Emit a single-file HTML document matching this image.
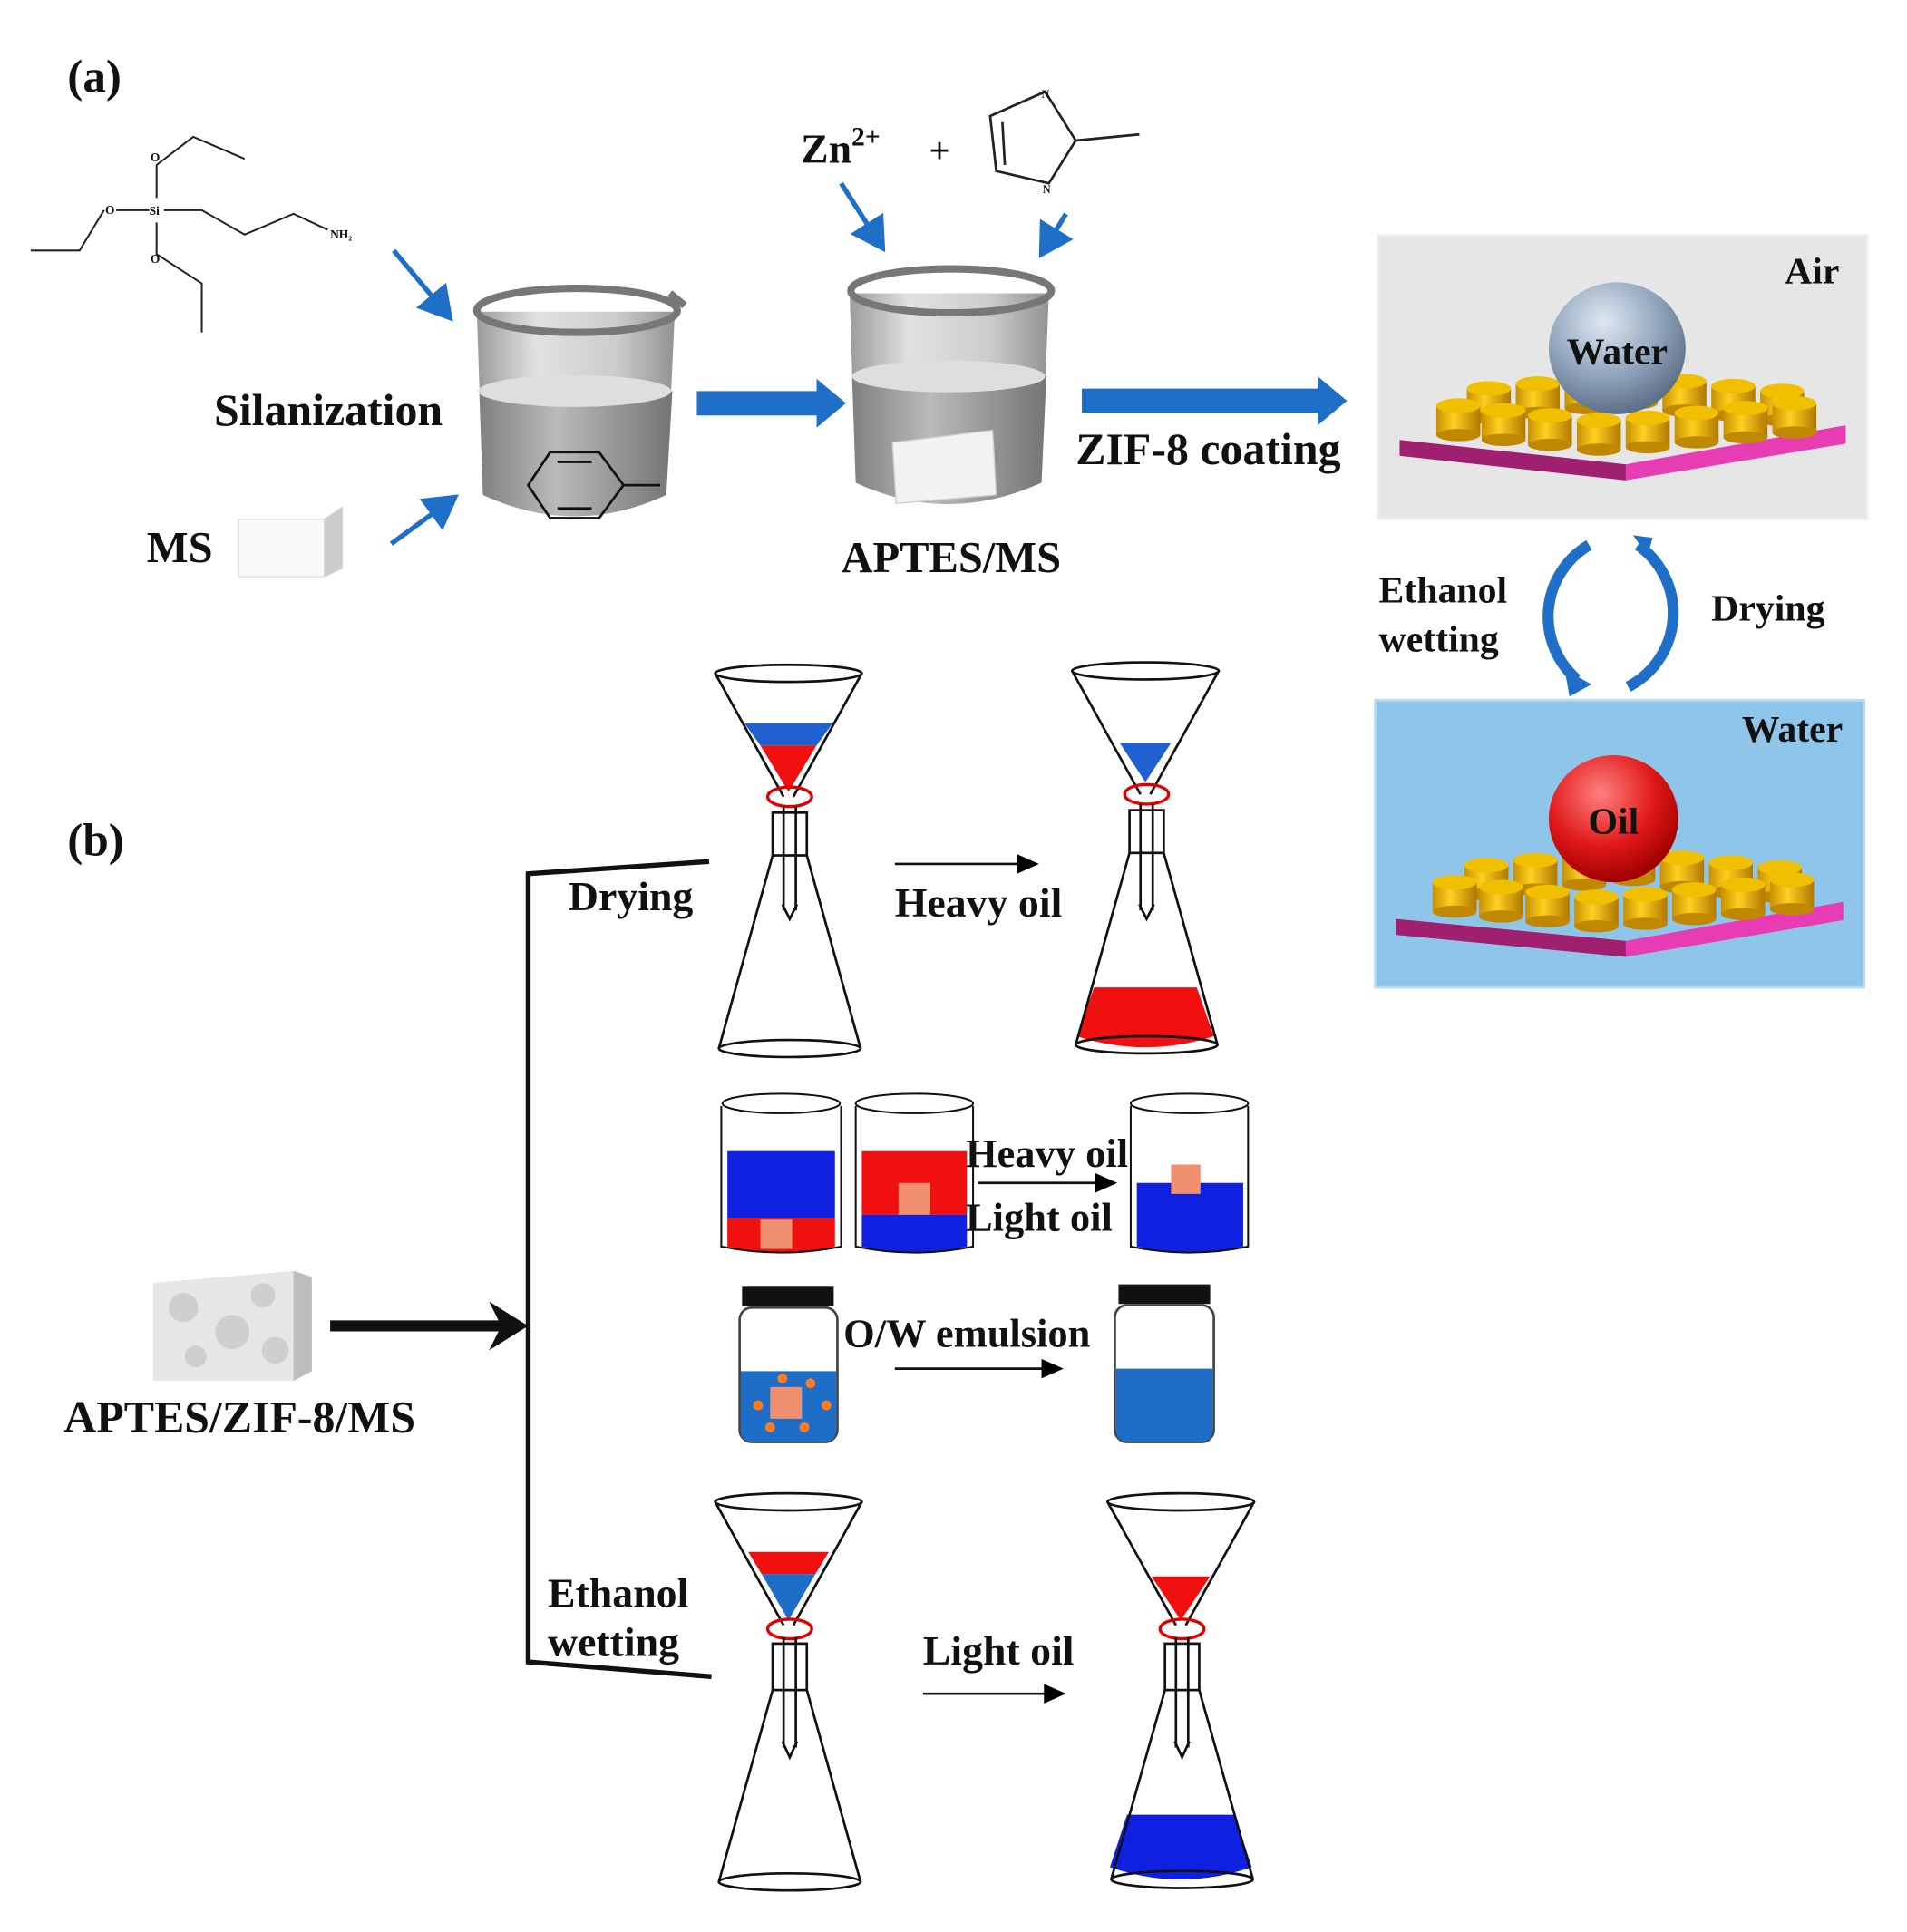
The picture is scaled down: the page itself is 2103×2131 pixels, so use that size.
<!DOCTYPE html>
<html><head><meta charset="utf-8"><style>
html,body{margin:0;padding:0;background:#fff;}
svg{display:block;}
text{font-family:"Liberation Serif",serif;font-weight:bold;fill:#111;}
</style></head><body>
<svg width="2103" height="2131" viewBox="0 0 1560 1581" xmlns="http://www.w3.org/2000/svg">
<defs>
<linearGradient id="bk" x1="0" x2="1"><stop offset="0" stop-color="#8a8a8a"/><stop offset="0.3" stop-color="#dcdcdc"/><stop offset="0.7" stop-color="#c4c4c4"/><stop offset="1" stop-color="#808080"/></linearGradient>
<linearGradient id="liq" x1="0" x2="1"><stop offset="0" stop-color="#808080"/><stop offset="0.4" stop-color="#bababa"/><stop offset="1" stop-color="#757575"/></linearGradient>
<radialGradient id="ws" cx="0.4" cy="0.3" r="0.7"><stop offset="0" stop-color="#dfe8f2"/><stop offset="0.6" stop-color="#8fa3bb"/><stop offset="1" stop-color="#5e7088"/></radialGradient>
<radialGradient id="os" cx="0.4" cy="0.3" r="0.7"><stop offset="0" stop-color="#ff8080"/><stop offset="0.6" stop-color="#e01818"/><stop offset="1" stop-color="#a00000"/></radialGradient>
<linearGradient id="py" x1="0" x2="1"><stop offset="0" stop-color="#c89000"/><stop offset="0.4" stop-color="#ffd020"/><stop offset="1" stop-color="#b07800"/></linearGradient>
<g id="pil"><rect x="0" y="0" width="36" height="24" fill="url(#py)"/><ellipse cx="18" cy="24" rx="18" ry="5" fill="#c08800"/><ellipse cx="18" cy="0" rx="18" ry="6" fill="#f0c000"/></g>
<marker id="ah" markerWidth="10" markerHeight="10" refX="8" refY="5" orient="auto"><path d="M0,1 L9,5 L0,9 Z" fill="#000"/></marker>
<marker id="bh" markerWidth="8" markerHeight="8" refX="6" refY="4" orient="auto"><path d="M0,0 L7,4 L0,8 Z" fill="#1f6fc8"/></marker>
</defs>

<text x="55" y="75" font-size="38">(a)</text>
<text x="55" y="700" font-size="38">(b)</text>

<!-- APTES molecule -->
<g stroke="#222" stroke-width="1.5" fill="none">
<path d="M25,205 L65,205 L85,172 M95,172 L122,172 M128,162 L128,135 L158,112 L200,130 M128,182 L128,208 L165,232 L165,272 M134,172 L165,172 L200,192 L240,175 L268,188"/>
</g>
<g font-family="Liberation Sans"><text x="86" y="175" font-size="10">O</text><text x="123" y="132" font-size="10">O</text><text x="123" y="215" font-size="10">O</text><text x="122" y="176" font-size="10">Si</text><text x="270" y="195" font-size="10">NH₂</text></g>

<g stroke="#1f6fc8" stroke-width="4" marker-end="url(#bh)">
<line x1="322" y1="205" x2="368" y2="260"/>
<line x1="320" y1="445" x2="372" y2="407"/>
<line x1="688" y1="150" x2="722" y2="203"/>
<line x1="872" y1="175" x2="852" y2="208"/>
</g>

<!-- beaker 1 -->
<path d="M390,255 L395,405 Q470,440 545,405 L552,255 Z" fill="url(#bk)" opacity="0.85"/>
<path d="M392,320 L395,405 Q470,440 545,405 L550,320 Q470,335 392,320Z" fill="url(#liq)"/>
<ellipse cx="470" cy="320" rx="79" ry="13" fill="#dedede"/>
<ellipse cx="472" cy="254" rx="82" ry="18" fill="none" stroke="#777" stroke-width="6"/>
<path d="M548,240 L560,250" stroke="#777" stroke-width="6"/>
<g stroke="#111" stroke-width="2" fill="none"><path d="M450,370 L490,370 L510,397 L490,424 L450,424 L432,397 Z M510,397 L540,397 M456,378 L484,378 M456,416 L484,416"/></g>
<text x="175" y="348" font-size="37">Silanization</text>
<text x="120" y="460" font-size="36">MS</text>
<path d="M195,425 L265,425 L280,415 L280,465 L265,472 L195,472 Z" fill="#fafafa" stroke="#ddd"/>
<path d="M265,425 L280,415 L280,465 L265,472Z" fill="#ccc"/>

<path d="M570,320 L668,320 L668,310 L692,330 L668,350 L668,340 L570,340 Z" fill="#1f6fc8"/>

<!-- beaker 2 -->
<path d="M695,240 L700,395 Q775,430 852,395 L858,240 Z" fill="url(#bk)" opacity="0.85"/>
<path d="M697,308 L700,395 Q775,430 852,395 L856,308 Q775,322 697,308Z" fill="url(#liq)"/>
<ellipse cx="776" cy="308" rx="79" ry="13" fill="#dedede"/>
<ellipse cx="778" cy="238" rx="82" ry="18" fill="none" stroke="#777" stroke-width="6"/>
<path d="M730,362 L812,352 L815,405 L733,412 Z" fill="#f2f2f2" stroke="#ccc"/>
<text x="688" y="468" font-size="36">APTES/MS</text>
<text x="655" y="133" font-size="34">Zn<tspan font-size="22" dy="-14">2+</tspan></text>
<text x="760" y="133" font-size="30">+</text>
<g stroke="#222" stroke-width="2" fill="none"><path d="M855,75 L880,115 L858,150 L815,140 L810,95 Z M820,100 L822,135 M880,115 L932,110"/></g>
<text x="852" y="80" font-size="9" font-family="Liberation Sans">N</text><text x="853" y="158" font-size="9" font-family="Liberation Sans">N</text>

<path d="M885,318 L1078,318 L1078,308 L1102,328 L1078,348 L1078,338 L885,338 Z" fill="#1f6fc8"/>
<text x="880" y="380" font-size="37">ZIF-8 coating</text>

<!-- top panel -->
<rect x="1127" y="192" width="401" height="233" fill="#e6e6e6" stroke="#f2f2f2" stroke-width="2"/>
<text x="1460" y="232" font-size="31">Air</text>
<polygon points="1145,360 1330,380 1510,348 1510,363 1330,393 1145,373" fill="#e83cb4"/>
<polygon points="1145,360 1330,380 1330,393 1145,373" fill="#a02070"/>
<g><use href="#pil" x="1200" y="318"/><use href="#pil" x="1240" y="314"/><use href="#pil" x="1280" y="310"/><use href="#pil" x="1320" y="306"/><use href="#pil" x="1360" y="312"/><use href="#pil" x="1400" y="316"/><use href="#pil" x="1440" y="320"/>
<use href="#pil" x="1175" y="332"/><use href="#pil" x="1212" y="336"/><use href="#pil" x="1250" y="340"/><use href="#pil" x="1290" y="344"/><use href="#pil" x="1330" y="342"/><use href="#pil" x="1370" y="338"/><use href="#pil" x="1410" y="334"/><use href="#pil" x="1450" y="330"/></g>
<ellipse cx="1323" cy="285" rx="56" ry="54" fill="url(#ws)"/>
<text x="1323" y="298" font-size="31" text-anchor="middle">Water</text>

<g fill="none" stroke="#1f6fc8" stroke-width="9">
<path d="M1300,446 A68,68 0 0 0 1290,556"/>
<path d="M1340,446 A68,68 0 0 1 1332,562"/>
</g>
<path d="M1280,548 L1302,560 L1284,570 Z" fill="#1f6fc8"/>
<path d="M1352,440 L1336,438 L1348,455 Z" fill="#1f6fc8"/>
<text x="1128" y="493" font-size="31">Ethanol</text>
<text x="1128" y="533" font-size="31">wetting</text>
<text x="1400" y="508" font-size="31">Drying</text>

<!-- bottom panel -->
<rect x="1125" y="573" width="400" height="235" fill="#8fc5e8" stroke="#b8dcf0" stroke-width="2"/>
<text x="1425" y="607" font-size="31">Water</text>
<polygon points="1142,752 1330,770 1508,738 1508,753 1330,783 1142,765" fill="#e83cb4"/>
<polygon points="1142,752 1330,770 1330,783 1142,765" fill="#a02070"/>
<g><use href="#pil" x="1198" y="708"/><use href="#pil" x="1238" y="704"/><use href="#pil" x="1278" y="700"/><use href="#pil" x="1318" y="696"/><use href="#pil" x="1358" y="702"/><use href="#pil" x="1398" y="706"/><use href="#pil" x="1438" y="710"/>
<use href="#pil" x="1172" y="722"/><use href="#pil" x="1210" y="726"/><use href="#pil" x="1248" y="730"/><use href="#pil" x="1288" y="734"/><use href="#pil" x="1328" y="732"/><use href="#pil" x="1368" y="728"/><use href="#pil" x="1408" y="724"/><use href="#pil" x="1448" y="720"/></g>
<ellipse cx="1320" cy="670" rx="53" ry="52" fill="url(#os)"/>
<text x="1320" y="682" font-size="31" text-anchor="middle">Oil</text>

<!-- (b) -->
<path d="M580,705 L432,715 L432,1360 L582,1372" fill="none" stroke="#111" stroke-width="4"/>
<line x1="270" y1="1085" x2="422" y2="1085" stroke="#111" stroke-width="9"/>
<path d="M400,1065 L432,1085 L400,1105 L410,1085 Z" fill="#111"/>
<path d="M125,1050 L240,1040 L255,1045 L255,1122 L240,1130 L125,1130 Z" fill="#e6e6e6"/>
<path d="M240,1040 L255,1045 L255,1122 L240,1130 Z" fill="#bdbdbd"/>
<g fill="#cfcfcf"><circle cx="150" cy="1070" r="12"/><circle cx="190" cy="1090" r="14"/><circle cx="215" cy="1060" r="10"/><circle cx="160" cy="1110" r="9"/><circle cx="225" cy="1105" r="11"/></g>
<text x="52" y="1172" font-size="37">APTES/ZIF-8/MS</text>

<g stroke="#111" stroke-width="2" fill="none">
<polygon points="609,592 681,592 668,610 622,610" fill="#2060d0" stroke="none"/>
<polygon points="622,610 668,610 645,648" fill="#f01010" stroke="none"/>
<ellipse cx="645" cy="551" rx="60" ry="7"/>
<line x1="585" y1="551" x2="641" y2="652"/><line x1="705" y1="551" x2="649" y2="652"/>
<ellipse cx="646" cy="652" rx="18" ry="8" stroke="#e00000" stroke-width="2.5"/>
<rect x="632" y="665" width="28" height="35"/><line x1="641" y1="660" x2="641" y2="745"/><line x1="651" y1="660" x2="651" y2="745"/>
<path d="M640,740 L646,752 L652,740"/>
<line x1="632" y1="700" x2="588" y2="858"/><line x1="660" y1="700" x2="704" y2="858"/>
<ellipse cx="646" cy="858" rx="58" ry="7"/>
</g>
<text x="465" y="745" font-size="34">Drying</text>
<text x="732" y="750" font-size="34">Heavy oil</text>
<line x1="732" y1="707" x2="848" y2="707" stroke="#111" stroke-width="2" marker-end="url(#ah)"/>

<g stroke="#111" stroke-width="2" fill="none">
<polygon points="916,608 958,608 937,640" fill="#2060d0" stroke="none"/>
<path d="M895,808 L979,808 L993,848 Q937,866 881,848 Z" fill="#f01010" stroke="none"/>
<ellipse cx="937" cy="549" rx="60" ry="7"/>
<line x1="877" y1="549" x2="933" y2="650"/><line x1="997" y1="549" x2="941" y2="650"/>
<ellipse cx="938" cy="650" rx="18" ry="8" stroke="#e00000" stroke-width="2.5"/>
<rect x="924" y="663" width="28" height="35"/><line x1="933" y1="658" x2="933" y2="745"/><line x1="943" y1="658" x2="943" y2="745"/>
<path d="M932,740 L938,752 L944,740"/>
<line x1="924" y1="698" x2="880" y2="855"/><line x1="952" y1="698" x2="996" y2="855"/>
<ellipse cx="938" cy="855" rx="58" ry="7"/>
</g>

<g stroke="#111" stroke-width="1.5">
<rect x="595" y="942" width="88" height="55" fill="#1020e0" stroke="none"/><path d="M595,997 L683,997 L683,1020 Q639,1030 595,1020Z" fill="#f01010" stroke="none"/>
<rect x="622" y="998" width="26" height="24" fill="#f09070" stroke="none"/>
<path d="M590,905 L590,1020 Q639,1030 688,1020 L688,905" fill="none"/><ellipse cx="639" cy="903" rx="48" ry="8" fill="none"/>
<rect x="705" y="942" width="86" height="52" fill="#f01010" stroke="none"/><path d="M705,994 L791,994 L791,1020 Q748,1030 705,1020Z" fill="#1020e0" stroke="none"/>
<rect x="735" y="968" width="26" height="26" fill="#f09070" stroke="none"/>
<path d="M700,905 L700,1020 Q748,1030 796,1020 L796,905" fill="none"/><ellipse cx="748" cy="903" rx="48" ry="8" fill="none"/>
<path d="M930,968 L1017,968 L1017,1020 Q973,1030 930,1020Z" fill="#1020e0" stroke="none"/>
<rect x="958" y="953" width="24" height="24" fill="#f09070" stroke="none"/>
<path d="M925,905 L925,1020 Q973,1030 1021,1020 L1021,905" fill="none"/><ellipse cx="973" cy="903" rx="48" ry="8" fill="none"/>
</g>
<text x="790" y="955" font-size="33">Heavy oil</text>
<text x="790" y="1007" font-size="33">Light oil</text>
<line x1="800" y1="968" x2="912" y2="968" stroke="#111" stroke-width="2" marker-end="url(#ah)"/>

<rect x="607" y="1053" width="75" height="16" fill="#111"/>
<rect x="605" y="1070" width="80" height="110" rx="10" fill="none" stroke="#444" stroke-width="2"/>
<path d="M606,1122 L684,1122 L684,1170 Q684,1180 674,1180 L616,1180 Q606,1180 606,1170Z" fill="#1e6ec8"/>
<rect x="630" y="1135" width="26" height="26" fill="#f09070"/>
<g fill="#ff7a20"><circle cx="620" cy="1150" r="4"/><circle cx="640" cy="1128" r="4"/><circle cx="663" cy="1132" r="4"/><circle cx="676" cy="1150" r="4"/><circle cx="658" cy="1168" r="4"/><circle cx="630" cy="1168" r="4"/></g>
<rect x="915" y="1051" width="75" height="16" fill="#111"/>
<rect x="912" y="1068" width="81" height="112" rx="10" fill="none" stroke="#444" stroke-width="2"/>
<path d="M913,1120 L992,1120 L992,1170 Q992,1180 982,1180 L923,1180 Q913,1180 913,1170Z" fill="#1e6ec8"/>
<text x="690" y="1102" font-size="33">O/W emulsion</text>
<line x1="732" y1="1120" x2="868" y2="1120" stroke="#111" stroke-width="2" marker-end="url(#ah)"/>

<g stroke="#111" stroke-width="2" fill="none">
<polygon points="612,1270 678,1270 667,1288 623,1288" fill="#f01010" stroke="none"/>
<polygon points="623,1288 667,1288 645,1326" fill="#1e6ec8" stroke="none"/>
<ellipse cx="645" cy="1229" rx="60" ry="7"/>
<line x1="585" y1="1229" x2="641" y2="1330"/><line x1="705" y1="1229" x2="649" y2="1330"/>
<ellipse cx="646" cy="1333" rx="18" ry="8" stroke="#e00000" stroke-width="2.5"/>
<rect x="632" y="1345" width="28" height="38"/><line x1="641" y1="1340" x2="641" y2="1430"/><line x1="651" y1="1340" x2="651" y2="1430"/>
<path d="M640,1425 L646,1438 L652,1425"/>
<line x1="632" y1="1383" x2="588" y2="1540"/><line x1="660" y1="1383" x2="704" y2="1540"/>
<ellipse cx="646" cy="1540" rx="58" ry="7"/>
</g>
<text x="448" y="1315" font-size="34">Ethanol</text>
<text x="448" y="1355" font-size="34">wetting</text>
<text x="755" y="1362" font-size="34">Light oil</text>
<line x1="755" y1="1386" x2="870" y2="1386" stroke="#111" stroke-width="2" marker-end="url(#ah)"/>

<g stroke="#111" stroke-width="2" fill="none">
<polygon points="942,1290 990,1290 966,1326" fill="#f01010" stroke="none"/>
<path d="M922,1485 L1010,1485 L1024,1528 Q966,1548 908,1528 Z" fill="#1020e0" stroke="none"/>
<ellipse cx="966" cy="1229" rx="60" ry="7"/>
<line x1="906" y1="1229" x2="962" y2="1330"/><line x1="1026" y1="1229" x2="970" y2="1330"/>
<ellipse cx="967" cy="1333" rx="18" ry="8" stroke="#e00000" stroke-width="2.5"/>
<rect x="953" y="1345" width="28" height="38"/><line x1="962" y1="1340" x2="962" y2="1430"/><line x1="972" y1="1340" x2="972" y2="1430"/>
<path d="M961,1425 L967,1438 L973,1425"/>
<line x1="953" y1="1383" x2="909" y2="1538"/><line x1="981" y1="1383" x2="1025" y2="1538"/>
<ellipse cx="967" cy="1538" rx="58" ry="7"/>
</g>
</svg>
</body></html>
